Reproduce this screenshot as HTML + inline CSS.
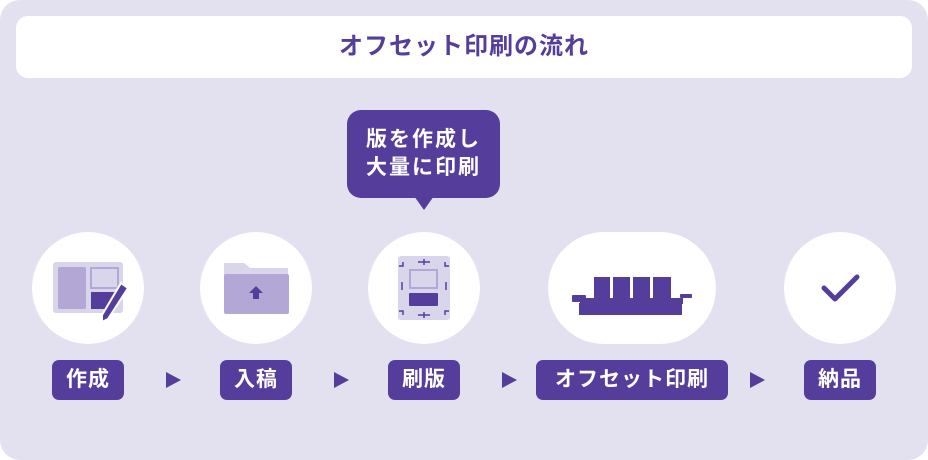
<!DOCTYPE html>
<html><head><meta charset="utf-8"><style>
*{margin:0;padding:0;box-sizing:border-box}
body{width:928px;height:460px;background:#fff;font-family:"Liberation Sans","Noto Sans CJK JP",sans-serif;position:relative;overflow:hidden}
.bg{position:absolute;left:0;top:0;width:928px;height:460px;background:#e3e1ef;border-radius:20px}
.title{position:absolute;left:16px;top:16px;width:896px;height:62px;background:#fff;border-radius:12px;color:#553e9b;font-weight:bold;font-size:24px;text-align:center;line-height:62px;letter-spacing:1px}
.c{position:absolute;background:#fff;border-radius:56px;top:232px;height:112px}
.lab{position:absolute;top:360px;height:40px;background:#553e9b;color:#fff;border-radius:7px;font-weight:bold;font-size:21px;text-align:center;line-height:40px;letter-spacing:1px}
.arr{position:absolute;top:372px;width:0;height:0;border-top:8px solid transparent;border-bottom:8px solid transparent;border-left:15px solid #553e9b}
.bub{position:absolute;left:347px;top:110px;width:153px;height:88px;background:#553e9b;border-radius:14px;color:#fff;font-weight:bold;font-size:21px;line-height:28px;text-align:center;padding-top:16px;letter-spacing:2px}
.tip{position:absolute;left:414px;top:196px;width:0;height:0;border-left:10px solid transparent;border-right:10px solid transparent;border-top:14px solid #553e9b}
svg{position:absolute}
</style></head><body>
<div class="bg"></div>
<div class="title">オフセット印刷の流れ</div>
<div class="bub">版を作成し<br>大量に印刷</div><div class="tip"></div>
<div class="c" style="left:32px;width:112px"></div>
<div class="c" style="left:200px;width:112px"></div>
<div class="c" style="left:368px;width:112px"></div>
<div class="c" style="left:548px;width:168px"></div>
<div class="c" style="left:784px;width:112px"></div>
<svg width="928" height="460" style="left:0;top:0">
<rect x="53" y="262" width="70" height="51" rx="3" fill="#d9d5ea"/>
<rect x="58" y="267" width="28" height="42" rx="2" fill="#b3a8d5"/>
<rect x="91" y="268" width="27" height="20" fill="#d9d5ea" stroke="#b3a8d5" stroke-width="2"/>
<rect x="91" y="292" width="25" height="17" fill="#553e9b"/>
<path d="M121 283 L128 288 L108 319 L102 322 L102 315 Z" fill="#553e9b" stroke="#fff" stroke-width="2"/>
<path d="M224 263 h20 l6 5 h38 v10 h-64 z" fill="#d9d5ea"/>
<rect x="224" y="274" width="65" height="40" rx="2" fill="#b3a8d5"/>
<path d="M256 286 l7 7 h-4 v6 h-6 v-6 h-4 z" fill="#553e9b"/>
<rect x="398" y="256" width="52" height="64" rx="3" fill="#d9d5ea"/>
<rect x="410" y="270" width="27" height="18" fill="#d9d5ea" stroke="#b3a8d5" stroke-width="2"/>
<rect x="409" y="293" width="29" height="13" rx="1" fill="#553e9b"/>
<g stroke="#553e9b" stroke-width="1.5" fill="none">
<path d="M403 262 v4 h-4 M445 262 v4 h4 M403 315 v-4 h-4 M445 315 v-4 h4"/>
<path d="M418 262 h12 M424 259 v6 M418 315 h12 M424 312 v6 M402 282 v8 M446 282 v8"/>
</g>
<g fill="#553e9b">
<rect x="594" y="277" width="77" height="24"/>
<rect x="580" y="298" width="103" height="6"/>
<rect x="579" y="303" width="103" height="12"/>
<rect x="572" y="295" width="14" height="7" rx="1"/>
<rect x="680" y="294" width="12" height="4" rx="1"/>
</g>
<rect x="610" y="277" width="3" height="21" fill="#fff"/>
<rect x="630" y="277" width="3" height="21" fill="#fff"/>
<rect x="650" y="277" width="3" height="21" fill="#fff"/>
<path d="M824 288 l11 11 l22 -22" fill="none" stroke="#553e9b" stroke-width="5" stroke-linecap="round" stroke-linejoin="round"/>
</svg>
<div class="lab" style="left:52px;width:72px">作成</div>
<div class="lab" style="left:220px;width:72px">入稿</div>
<div class="lab" style="left:388px;width:72px">刷版</div>
<div class="lab" style="left:536px;width:192px">オフセット印刷</div>
<div class="lab" style="left:804px;width:72px">納品</div>
<div class="arr" style="left:166px"></div>
<div class="arr" style="left:334px"></div>
<div class="arr" style="left:502px"></div>
<div class="arr" style="left:750px"></div>
</body></html>
